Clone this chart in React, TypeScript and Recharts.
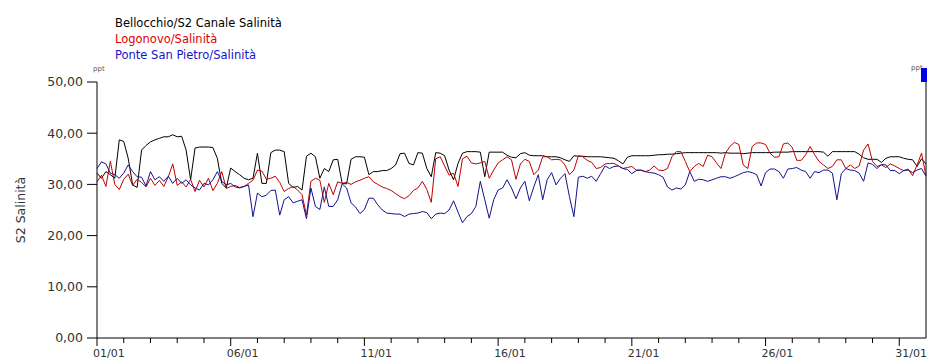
import { LineChart, Line, XAxis, YAxis, ReferenceLine } from 'recharts'

// readings every 4 hours, 01/01 00:00 -> 01/02 00:00
const STEP_HOURS = 4

const seriesNames = ['Bellocchio/S2 Canale Salinità', 'Logonovo/Salinità', 'Ponte San Pietro/Salinità']
const lineColors = ['#000000', '#c00000', '#12128e']
const legendColors = ['#000000', '#e00000', '#1414c8']

// ppt, one row per day
const bellocchio = [
  32.2, 31.2, 32.5, 31.9, 31.2, 38.7,
  38.4, 35.1, 29.9, 29.4, 36.7, 37.6,
  38.3, 38.7, 39.0, 39.3, 39.3, 39.7,
  39.3, 39.4, 36.7, 30.9, 37.1, 37.3,
  37.3, 37.3, 37.2, 35.1, 30.2, 29.3,
  33.2, 32.5, 31.9, 31.2, 30.9, 31.2,
  36.1, 30.2, 30.2, 36.2, 36.7, 36.7,
  36.4, 30.2, 29.4, 29.6, 28.9, 35.5,
  36.1, 35.4, 31.2, 33.1, 32.5, 34.8,
  34.9, 30.2, 30.1, 34.9, 35.4, 35.4,
  35.3, 31.9, 32.5, 32.5, 32.7, 32.7,
  33.1, 33.8, 36.0, 36.1, 34.1, 33.8,
  36.2, 36.1, 33.1, 31.5, 36.2, 36.1,
  35.6, 32.8, 30.9, 34.1, 36.1, 36.4,
  36.4, 36.4, 36.3, 31.5, 36.3, 36.3,
  36.3, 36.3, 35.7, 35.3, 35.2, 36.0,
  36.2, 35.7, 35.6, 35.6, 35.6, 35.4,
  35.4, 35.4, 35.2, 34.8, 34.5, 35.6,
  35.5, 35.5, 35.4, 35.4, 35.4, 35.4,
  35.3, 35.2, 35.1, 34.6, 34.0, 35.3,
  35.6, 35.6, 35.6, 35.6, 35.6, 35.7,
  35.8, 35.8, 35.9, 35.9, 36.0, 36.1,
  36.2, 36.2, 36.2, 36.2, 36.2, 36.2,
  36.2, 36.2, 36.1, 36.2, 36.1, 36.1,
  36.1, 36.0, 36.1, 36.2, 36.2, 36.2,
  36.2, 36.2, 36.3, 36.3, 36.3, 36.3,
  36.4, 36.4, 36.4, 36.4, 36.4, 36.4,
  36.4, 36.3, 35.5, 36.4, 36.4, 36.4,
  36.4, 36.4, 36.4, 35.9, 35.2, 34.9,
  34.9, 34.9, 34.3, 35.1, 35.4, 35.4,
  35.4, 35.1, 34.9, 34.8, 33.5, 35.0,
  34.0,
]

const logonovo = [
  30.5, 31.8, 29.6, 34.5, 30.0, 29.0,
  31.0, 32.0, 29.8, 31.0, 30.4, 29.5,
  31.2, 29.8, 30.8, 29.6, 31.5, 34.0,
  29.8, 30.5, 29.5, 31.0, 28.6, 30.8,
  29.5, 31.2, 28.8, 30.2, 32.5, 29.2,
  29.6, 29.8, 29.4, 29.6, 30.2, 30.8,
  32.8, 32.6, 31.0, 31.2, 31.6, 30.4,
  28.6, 29.2, 29.6, 28.9, 28.0, 24.0,
  30.6, 31.2, 30.8, 26.5, 30.2, 28.0,
  30.5, 30.2, 30.4, 30.0, 30.5, 30.8,
  31.2, 31.5, 30.5, 30.0, 29.5, 29.2,
  28.8, 28.2, 27.6, 27.2, 27.8, 28.8,
  29.3, 30.6, 29.0, 26.5, 35.0, 35.4,
  33.6, 31.8, 32.2, 29.6, 35.0, 35.5,
  34.2, 34.0, 34.2, 34.5, 31.2, 32.8,
  34.2, 34.8, 35.4, 34.8, 31.0, 34.0,
  34.9, 34.5, 31.9, 32.8, 35.4, 35.4,
  34.8, 34.9, 34.8, 33.8, 31.9, 32.8,
  35.6, 35.4, 34.7, 34.3, 33.1, 33.3,
  34.0, 34.1, 34.1, 33.6, 33.1, 33.3,
  33.5, 32.8, 32.8, 32.5, 32.8, 33.6,
  32.8, 32.7, 33.1, 35.4, 36.4, 36.4,
  34.5, 32.5, 33.5, 34.1, 33.5, 35.7,
  35.4, 34.2, 33.1, 36.1, 37.4, 38.2,
  37.8, 33.8, 33.1, 37.4, 38.1, 38.1,
  37.8, 36.1, 35.3, 35.4, 37.9, 38.1,
  37.2, 34.7, 34.7, 35.8, 37.4, 35.8,
  34.5, 33.8, 33.1, 33.5, 34.8, 34.8,
  33.1, 33.8, 33.1, 33.6, 36.7, 37.9,
  34.5, 33.5, 33.8, 33.3, 34.0, 33.6,
  33.1, 32.7, 33.0, 31.7, 33.8, 36.1,
  31.7,
]

const ponteSanPietro = [
  33.1, 34.4, 34.0, 32.2, 31.9, 31.2,
  32.2, 33.8, 32.5, 31.5, 31.4, 29.7,
  32.5, 30.9, 31.5, 30.6, 31.6, 30.2,
  31.2, 30.2, 30.9, 29.9, 29.3, 28.9,
  30.2, 29.9, 30.9, 32.5, 30.6, 29.9,
  30.2, 29.5, 29.3, 29.6, 29.9, 23.7,
  28.3, 27.6, 27.9, 28.8, 28.9, 24.0,
  27.0, 27.6, 26.4, 26.7, 27.0, 23.3,
  29.3, 25.7, 25.1, 29.5, 25.7, 25.7,
  27.0, 30.1, 29.3, 26.4, 25.6, 24.3,
  25.1, 27.3, 27.3, 26.0, 25.0, 24.4,
  24.3, 24.2, 24.2, 23.7, 24.2, 24.3,
  24.4, 24.7, 24.5, 23.3, 24.2, 24.4,
  24.3, 25.0, 26.8, 24.6, 22.5, 23.7,
  24.3, 25.7, 30.6, 27.0, 23.4, 27.0,
  28.9, 29.3, 30.9, 29.3, 27.2, 29.3,
  30.6, 26.8, 29.5, 31.9, 27.0, 30.9,
  32.3, 29.9, 31.2, 32.1, 27.6, 23.7,
  31.4, 31.6, 31.2, 31.6, 30.6, 32.1,
  33.6, 33.1, 33.5, 33.6, 33.1, 32.9,
  32.1, 32.7, 32.8, 32.5, 32.3, 32.2,
  31.9, 31.4, 29.5, 28.9, 29.3, 29.1,
  29.9, 32.5, 30.6, 31.0, 30.9, 30.6,
  30.9, 31.2, 31.5, 31.5, 31.2, 31.5,
  31.9, 32.3, 32.5, 32.3, 31.9, 29.7,
  32.3, 33.0, 33.0, 32.5, 31.2, 33.0,
  33.1, 33.3, 32.8, 32.5, 31.2, 32.5,
  32.3, 32.8, 32.8, 32.2, 27.0, 32.1,
  33.1, 32.8, 32.7, 32.2, 30.6, 34.2,
  33.9, 33.1, 33.9, 33.8, 32.7, 32.7,
  32.1, 32.7, 32.8, 32.3, 32.8, 33.1,
  31.6,
]

const yTicks = [0, 10, 20, 30, 40, 50]
const yTickLabels = ['0,00', '10,00', '20,00', '30,00', '40,00', '50,00']

const dayTicks = [
  0, 1, 2, 3, 4, 5, 6, 7, 8, 9, 10, 11, 12, 13, 14, 15,
  16, 17, 18, 19, 20, 21, 22, 23, 24, 25, 26, 27, 28, 29, 30,
]
const labelledDays = [0, 5, 10, 15, 20, 25, 30]
const dayLabels = ['01/01', '06/01', '11/01', '16/01', '21/01', '26/01', '31/01']

const data = bellocchio.map((v, i) => ({
  t: (i * STEP_HOURS) / 24,
  bellocchio: v,
  logonovo: logonovo[i],
  ponte: ponteSanPietro[i],
}))

const FONT = '"DejaVu Sans", Verdana, sans-serif'

function DayTick(props: any) {
  const { x, y, payload } = props
  const idx = labelledDays.indexOf(payload.value)
  const major = idx >= 0
  return (
    <g>
      <line x1={x} x2={x} y1={y} y2={y + (major ? 8 : 5)} stroke='#000' />
      {major && (
        <text x={x - 4} y={y + 18.5} fontSize={11} fill='#333' fontFamily={FONT}>
          {dayLabels[idx]}
        </text>
      )}
    </g>
  )
}

export default function App() {
  return (
    <div style={{ position: 'absolute', left: 0, top: 0, width: 927, height: 359, background: '#fff' }}>
      <LineChart
        width={927}
        height={359}
        data={data}
        margin={{ top: 82, right: 1, left: 0, bottom: 0 }}
      >
        <XAxis
          dataKey='t'
          type='number'
          domain={[0, 31]}
          ticks={dayTicks}
          interval={0}
          height={21}
          tickSize={0}
          tickMargin={0}
          tickLine={false}
          axisLine={{ stroke: '#000' }}
          tick={<DayTick />}
        />
        <YAxis
          type='number'
          domain={[0, 50]}
          ticks={yTicks}
          width={97}
          tickSize={10}
          tickMargin={4}
          tickLine={{ stroke: '#000' }}
          axisLine={{ stroke: '#000' }}
          tick={{ fontSize: 12.5, fill: '#333', fontFamily: FONT }}
          tickFormatter={(v: number) => yTickLabels[yTicks.indexOf(v)]}
          label={{
            content: () => (
              <text
                x={24.5}
                y={210}
                transform='rotate(-90 24.5 210)'
                textAnchor='middle'
                fontSize={12.5}
                fill='#333'
                fontFamily={FONT}
              >
                S2 Salinità
              </text>
            ),
          }}
        />
        <ReferenceLine x={31} stroke='#000' ifOverflow='visible' />
        <Line dataKey='bellocchio' name={seriesNames[0]} stroke={lineColors[0]} strokeWidth={1} dot={false} isAnimationActive={false} />
        <Line dataKey='logonovo' name={seriesNames[1]} stroke={lineColors[1]} strokeWidth={1} dot={false} isAnimationActive={false} />
        <Line dataKey='ponte' name={seriesNames[2]} stroke={lineColors[2]} strokeWidth={1} dot={false} isAnimationActive={false} />
      </LineChart>
      <svg
        width={927}
        height={359}
        style={{ position: 'absolute', left: 0, top: 0, pointerEvents: 'none' }}
      >
        {seriesNames.map((name, i) => (
          <text key={name} x={115} y={26.5 + i * 16.2} fontSize={11.5} fill={legendColors[i]} fontFamily={FONT}>
            {name}
          </text>
        ))}
        <text x={93} y={71} fontSize={7} fill='#555' fontFamily={FONT}>ppt</text>
        <text x={911} y={70} fontSize={7} fill='#555' fontFamily={FONT}>ppt</text>
        <rect x={921} y={68} width={6} height={14} fill='#0000ee' />
      </svg>
    </div>
  )
}
